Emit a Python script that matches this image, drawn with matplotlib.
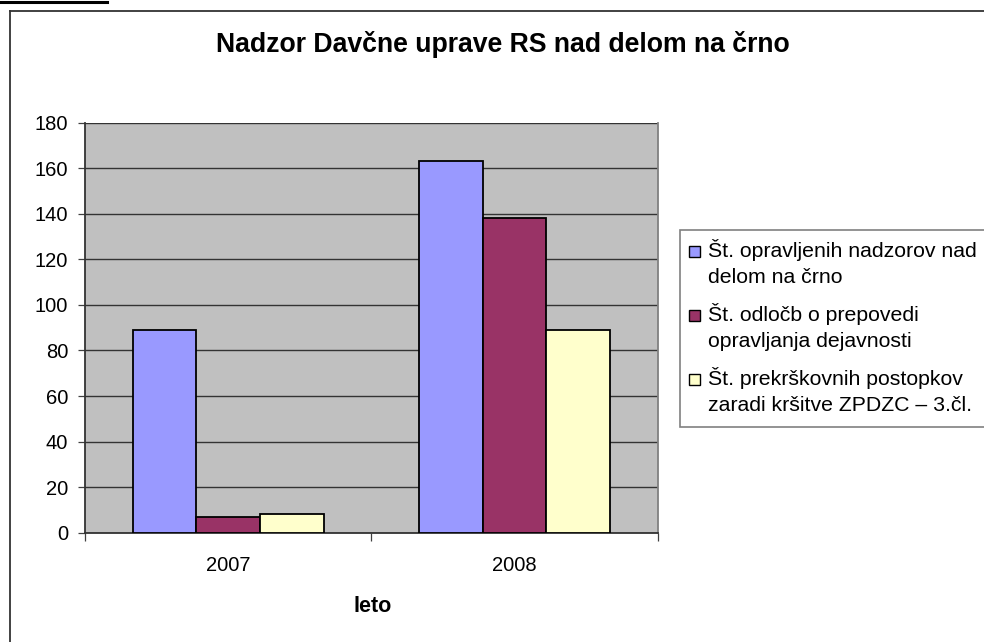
import matplotlib
matplotlib.use("Agg")
import matplotlib.pyplot as plt
from matplotlib.patches import Rectangle
from matplotlib.lines import Line2D
import numpy as np

plt.rcParams['font.family'] = ['Liberation Sans', 'DejaVu Sans']

years = ["2007", "2008"]
series_names = [
    "Št. opravljenih nadzorov nad\ndelom na črno",
    "Št. odločb o prepovedi\nopravljanja dejavnosti",
    "Št. prekrškovnih postopkov\nzaradi kršitve ZPDZC – 3.čl.",
]
values_nadzori = [89, 163]
values_odlocbe = [7, 138]
values_postopki = [8, 89]
colors = ["#9999FF", "#993366", "#FFFFCC"]
yticks = [0, 20, 40, 60, 80, 100, 120, 140, 160, 180]
title = "Nadzor Davčne uprave RS nad delom na črno"
xlabel = "leto"

W, H = 984, 642
fig = plt.figure(figsize=(W / 100, H / 100), dpi=100)

def fx(px):
    return px / W

def fy(py):
    return 1 - py / H

# outer chart frame
fig.add_artist(Line2D([fx(10), fx(10)], [fy(11), fy(H + 5)], color="#333333", lw=1.3))
fig.add_artist(Line2D([fx(10), fx(W + 5)], [fy(11), fy(11)], color="#333333", lw=1.3))
# document underline at top-left
fig.add_artist(Line2D([0, fx(107)], [fy(1.5), fy(1.5)], color="black", lw=2.2))

left, right, top, bottom = 85, 657.7, 122.7, 532.7
ax = fig.add_axes([fx(left), fy(bottom), fx(right - left), (bottom - top) / H])
ax.set_facecolor("#C0C0C0")

x = np.arange(len(years))
bw = 1 / 4.5
all_vals = [values_nadzori, values_odlocbe, values_postopki]
for i, (vals, c) in enumerate(zip(all_vals, colors)):
    ax.bar(x + (i - 1) * bw, vals, width=bw, color=c, edgecolor="black",
           linewidth=1.3, zorder=3)

ax.set_xlim(-0.5, 1.5)
ax.set_ylim(0, 180)
ax.set_yticks(yticks)
ax.yaxis.grid(True, color="#333333", lw=1.0, zorder=1)
ax.set_axisbelow(True)
ax.tick_params(axis="y", length=5, width=0.9, color="#404040", pad=7,
               labelsize=14.5, labelcolor="black")
ax.set_xticks([-0.5, 0.5, 1.5])
ax.set_xticklabels([])
ax.set_xticks(x, minor=True)
ax.set_xticklabels(years, minor=True)
ax.tick_params(axis="x", which="major", length=6, width=0.9, color="#404040")
ax.tick_params(axis="x", which="minor", length=0, pad=17, labelsize=14.5)

for s in ["left", "bottom"]:
    ax.spines[s].set_color("#333333")
    ax.spines[s].set_linewidth(1.3)
ax.spines["top"].set_visible(False)
ax.spines["right"].set_color("#808080")
ax.spines["right"].set_linewidth(1.3)

fig.text(fx(503), fy(44), title, ha="center", va="center",
         fontsize=19.2, fontweight="bold")
fig.text(fx(373), fy(607), xlabel, ha="center", va="center",
         fontsize=15.5, fontweight="bold")

# legend (manual)
lg_left, lg_top, lg_bottom = 680, 230, 427
fig.add_artist(Rectangle((fx(lg_left), fy(lg_bottom)), fx(W + 10 - lg_left),
                         (lg_bottom - lg_top) / H, facecolor="white",
                         edgecolor="#808080", lw=1.2))
entry_centers = [263, 327, 391]
for name, c, yy in zip(series_names, colors, entry_centers):
    sq = 11
    my = yy - 12
    fig.add_artist(Rectangle((fx(689), fy(my + sq / 2)), fx(sq), sq / H,
                             facecolor=c, edgecolor="black", lw=1.0))
    fig.text(fx(708), fy(yy), name, ha="left", va="center", fontsize=15.3,
             linespacing=1.45)

fig.savefig("out.png", dpi=100)
